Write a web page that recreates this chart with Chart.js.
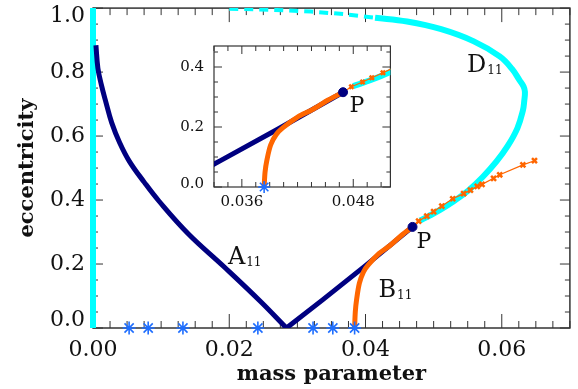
<!DOCTYPE html>
<html lang="en">
<head>
<meta charset="UTF-8">
<title>Eccentricity vs mass parameter</title>
<script src="https://cdn.jsdelivr.net/npm/chart.js"></script>
<style>
  body { margin: 0; background: #fff; }
  #wrap { position: relative; width: 578px; height: 389px; }
  #main { position: absolute; left: 0; top: 0; }
  #inset { position: absolute; left: 170px; top: 38px; }
</style>
</head>
<body>
<div id="wrap">
  <canvas id="main" width="578" height="389"></canvas>
  <canvas id="inset" width="228" height="180"></canvas>
</div>
<script>
// family A11: curved left branch down to e = 0, straight branch up to P
const aLeftX = [0.00043, 0.00072, 0.00123, 0.00188, 0.00274, 0.00390, 0.00534, 0.00751, 0.00967, 0.01401, 0.01931, 0.02459, 0.0284];
const aLeftY = [0.884, 0.812, 0.760, 0.707, 0.642, 0.580, 0.521, 0.456, 0.397, 0.294, 0.190, 0.083, 0.000];
const aRightX = [0.0284, 0.0337, 0.0400, 0.0469];
const aRightY = [0.000, 0.088, 0.195, 0.316];

// family B11: dense part from e = 0 up to P, then sparse points
const bDenseX = [0.0384, 0.0385, 0.0387, 0.0391, 0.0397, 0.0404, 0.0420, 0.0436, 0.0453, 0.0469];
const bDenseY = [0.000, 0.050, 0.090, 0.140, 0.175, 0.197, 0.233, 0.258, 0.290, 0.316];
const bSparseX = [0.0469, 0.0478, 0.0490, 0.0500, 0.0512, 0.0528, 0.0544, 0.0554, 0.0564, 0.0571, 0.0588, 0.0597, 0.0631, 0.0648];
const bSparseY = [0.316, 0.334, 0.350, 0.364, 0.381, 0.404, 0.420, 0.431, 0.443, 0.449, 0.468, 0.479, 0.510, 0.523];

// family D11
const dTopX = [0.0200, 0.0260, 0.0320, 0.0370, 0.0414];
const dTopY = [0.998, 0.995, 0.989, 0.981, 0.970];
const dX = [0.0414, 0.0461, 0.0511, 0.0559, 0.0597, 0.0615, 0.0626, 0.0632, 0.0634, 0.0633, 0.0631, 0.0623, 0.0609, 0.0592, 0.0572, 0.0551, 0.0530, 0.0510, 0.0493, 0.0480];
const dY = [0.970, 0.958, 0.934, 0.896, 0.849, 0.810, 0.775, 0.755, 0.738, 0.710, 0.680, 0.625, 0.570, 0.520, 0.472, 0.430, 0.397, 0.370, 0.350, 0.336];
const dAxisX = [0, 0];
const dAxisY = [0, 1];

// circular orbits marked on e = 0
const starX = [0.0053, 0.0081, 0.0132, 0.0242, 0.0323, 0.0352, 0.0384];
const starY = [0, 0, 0, 0, 0, 0, 0];
const insetStarX = [0.0384];
const insetStarY = [0];

// point P
const pX = [0.0469];
const pY = [0.316];

const navy = '#000080';
const orange = '#ff6600';
const cyan = '#00ffff';
const starBlue = '#1e6eff';
const serif = '"DejaVu Serif", serif';

function pts(xs, ys) {
  return xs.map((x, i) => ({ x: x, y: ys[i] }));
}

function line(xs, ys, color, width, extra) {
  return Object.assign({
    data: pts(xs, ys),
    showLine: true,
    borderColor: color,
    backgroundColor: color,
    borderWidth: width,
    pointRadius: 0,
    tension: 0,
    fill: false
  }, extra || {});
}

function drawTicks(ctx, scale, minor, major, lenMajor, lenMinor, horizontal, area) {
  const k0 = Math.ceil(scale.min / minor - 1e-6);
  const k1 = Math.floor(scale.max / minor + 1e-6);
  for (let k = k0; k <= k1; k++) {
    const v = k * minor;
    const r = v / major;
    const len = Math.abs(r - Math.round(r)) < 1e-6 ? lenMajor : lenMinor;
    const p = scale.getPixelForValue(v);
    if (horizontal) {
      ctx.moveTo(p, area.bottom); ctx.lineTo(p, area.bottom - len);
      ctx.moveTo(p, area.top); ctx.lineTo(p, area.top + len);
    } else {
      ctx.moveTo(area.left, p); ctx.lineTo(area.left + len, p);
      ctx.moveTo(area.right, p); ctx.lineTo(area.right - len, p);
    }
  }
}

// box, inward ticks and y labels in the IDL style
const frame = {
  id: 'frame',
  beforeDatasetsDraw(chart, args, o) {
    const ctx = chart.ctx;
    const a = chart.chartArea;
    ctx.save();
    if (o.fill) {
      ctx.fillStyle = o.fill;
      ctx.fillRect(a.left, a.top, a.right - a.left, a.bottom - a.top);
    }
    ctx.strokeStyle = '#333';
    ctx.lineWidth = o.lineWidth;
    ctx.strokeRect(a.left, a.top, a.right - a.left, a.bottom - a.top);
    ctx.lineWidth = 1;
    ctx.beginPath();
    drawTicks(ctx, chart.scales.x, o.xMinor, o.xMajor, o.xLen[0], o.xLen[1], true, a);
    drawTicks(ctx, chart.scales.y, o.yMinor, o.yMajor, o.yLen[0], o.yLen[1], false, a);
    ctx.stroke();
    ctx.restore();
  },
  afterDraw(chart, args, o) {
    const ctx = chart.ctx;
    const a = chart.chartArea;
    const y = chart.scales.y;
    ctx.save();
    ctx.fillStyle = '#111';
    ctx.font = o.labelSize + 'px ' + serif;
    ctx.textAlign = 'right';
    ctx.textBaseline = 'middle';
    y.ticks.forEach(t => {
      let p = y.getPixelForValue(t.value);
      p = Math.min(Math.max(p, a.top + o.clamp), a.bottom - o.clamp);
      ctx.fillText(t.value.toFixed(1), a.left - o.gap, p);
    });
    ctx.restore();
  }
};

// curve names and point labels
const notes = {
  id: 'notes',
  afterDatasetsDraw(chart, args, o) {
    const ctx = chart.ctx;
    const xs = chart.scales.x;
    const ys = chart.scales.y;
    ctx.save();
    ctx.fillStyle = '#111';
    ctx.textBaseline = 'alphabetic';
    ctx.textAlign = 'left';
    o.items.forEach(n => {
      const px = xs.getPixelForValue(n.x);
      const py = ys.getPixelForValue(n.y);
      ctx.font = n.size + 'px ' + serif;
      ctx.fillText(n.text, px, py);
      if (n.sub) {
        const w = ctx.measureText(n.text).width;
        ctx.font = n.subSize + 'px ' + serif;
        ctx.fillText(n.sub, px + w + 1, py + 2);
      }
    });
    ctx.restore();
  }
};

new Chart(document.getElementById('main'), {
  type: 'scatter',
  data: {
    datasets: [
      line(dAxisX, dAxisY, cyan, 6, { clip: false, order: 7 }),
      line(dTopX, dTopY, cyan, 4, { borderDash: [9, 6], order: 6 }),
      line(dX, dY, cyan, 6, { tension: 0.4, order: 6 }),
      line(aLeftX, aLeftY, navy, 5, { tension: 0.4, order: 5 }),
      line(aRightX, aRightY, navy, 5, { order: 5 }),
      line(bDenseX, bDenseY, orange, 5, { tension: 0.3, order: 4 }),
      line(bSparseX, bSparseY, orange, 1.2, { pointStyle: 'crossRot', pointRadius: 3.5, pointBorderWidth: 2.5, order: 3 }),
      { data: pts(starX, starY), pointStyle: 'star', pointRadius: 6.5, pointBorderWidth: 1.6, borderColor: starBlue, backgroundColor: starBlue, clip: false, order: 2 },
      { data: pts(pX, pY), pointStyle: 'circle', pointRadius: 4.5, borderColor: navy, backgroundColor: navy, order: 1 }
    ]
  },
  options: {
    responsive: false,
    animation: false,
    devicePixelRatio: 1,
    layout: { padding: { top: 5, right: 1, left: 0, bottom: 0 } },
    plugins: {
      legend: { display: false },
      tooltip: { enabled: false },
      frame: { xMinor: 0.0025, xMajor: 0.02, yMinor: 0.05, yMajor: 0.2, xLen: [14, 7], yLen: [10, 5], lineWidth: 1.5, labelSize: 22, gap: 8, clamp: 8 },
      notes: {
        items: [
          { text: 'A', sub: '11', x: 0.0198, y: 0.201, size: 24, subSize: 12 },
          { text: 'B', sub: '11', x: 0.0419, y: 0.096, size: 24, subSize: 12 },
          { text: 'D', sub: '11', x: 0.0549, y: 0.800, size: 24, subSize: 12 },
          { text: 'P', x: 0.0475, y: 0.251, size: 22 }
        ]
      }
    },
    scales: {
      x: {
        type: 'linear', min: 0, max: 0.07,
        grid: { display: false, drawTicks: false },
        border: { display: false },
        ticks: { stepSize: 0.02, includeBounds: false, padding: 9, color: '#111', font: { family: serif, size: 22 }, maxRotation: 0, autoSkip: false, callback: v => v.toFixed(2) },
        title: { display: true, text: 'mass parameter', color: '#111', font: { family: serif, size: 21, weight: 'bold' }, padding: { top: 0, bottom: 2 } },
        afterFit: s => { s.height = 61; s.paddingLeft = 0; s.paddingRight = 0; }
      },
      y: {
        type: 'linear', min: 0, max: 1,
        grid: { display: false, drawTicks: false },
        border: { display: false },
        ticks: { display: false, stepSize: 0.2 },
        title: { display: true, text: 'eccentricity', color: '#111', font: { family: serif, size: 21, weight: 'bold' }, padding: { top: 15, bottom: 0 } },
        afterFit: s => { s.width = 93; s.paddingTop = 0; s.paddingBottom = 0; }
      }
    }
  },
  plugins: [frame, notes]
});

new Chart(document.getElementById('inset'), {
  type: 'scatter',
  data: {
    datasets: [
      line(dX, dY, cyan, 6, { tension: 0.4, clip: 0, order: 6 }),
      line(aRightX, aRightY, navy, 5, { clip: 0, order: 5 }),
      line(bDenseX, bDenseY, orange, 5, { tension: 0.3, clip: 0, order: 4 }),
      line(bSparseX, bSparseY, orange, 1.2, { pointStyle: 'crossRot', pointRadius: 3, pointBorderWidth: 2.5, clip: 0, order: 3 }),
      { data: pts(insetStarX, insetStarY), pointStyle: 'star', pointRadius: 6, pointBorderWidth: 1.6, borderColor: starBlue, backgroundColor: starBlue, clip: false, order: 2 },
      { data: pts(pX, pY), pointStyle: 'circle', pointRadius: 4.5, borderColor: navy, backgroundColor: navy, order: 1 }
    ]
  },
  options: {
    responsive: false,
    animation: false,
    devicePixelRatio: 1,
    layout: { padding: { top: 8, right: 3, left: 0, bottom: 0 } },
    plugins: {
      legend: { display: false },
      tooltip: { enabled: false },
      frame: { fill: '#fff', xMinor: 0.0015, xMajor: 0.012, yMinor: 0.05, yMajor: 0.2, xLen: [8, 5], yLen: [8, 4], lineWidth: 1.2, labelSize: 15, gap: 10, clamp: 3 },
      notes: { items: [{ text: 'P', x: 0.0476, y: 0.249, size: 22 }] }
    },
    scales: {
      x: {
        type: 'linear', min: 0.033, max: 0.052,
        grid: { display: false, drawTicks: false },
        border: { display: false },
        ticks: { stepSize: 0.012, includeBounds: false, padding: 6, color: '#111', font: { family: serif, size: 15 }, maxRotation: 0, autoSkip: false, callback: v => v.toFixed(3) },
        afterFit: s => { s.height = 31; s.paddingLeft = 0; s.paddingRight = 0; }
      },
      y: {
        type: 'linear', min: 0, max: 0.47,
        grid: { display: false, drawTicks: false },
        border: { display: false },
        ticks: { display: false, stepSize: 0.2, includeBounds: false },
        afterFit: s => { s.width = 44; s.paddingTop = 0; s.paddingBottom = 0; }
      }
    }
  },
  plugins: [frame, notes]
});
</script>
</body>
</html>
